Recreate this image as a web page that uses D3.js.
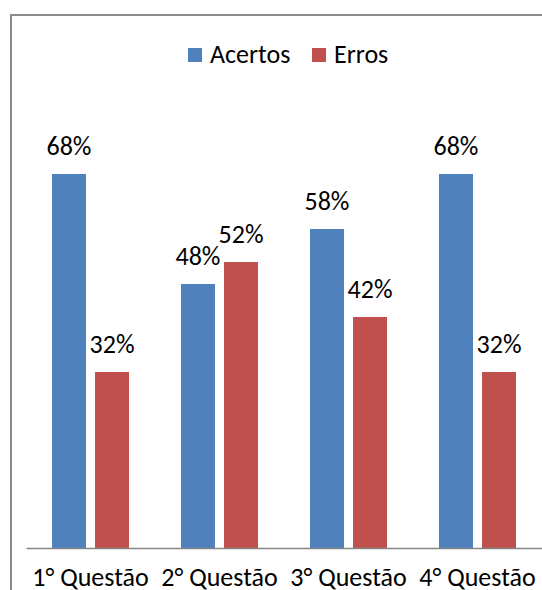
<!DOCTYPE html>
<html>
<head>
<meta charset="utf-8">
<script src="https://cdn.jsdelivr.net/npm/d3@7"></script>
<style>
  body { margin: 0; background: #fff; }
  text { font-family: Carlito, "Open Sans", sans-serif; fill: #000; }
</style>
</head>
<body>
<div id="graph"></div>
<script>
// chart data
var categories = ["1° Questão", "2° Questão", "3° Questão", "4° Questão"];
var series     = ["Acertos", "Erros"];
var acertos    = [0.68, 0.48, 0.58, 0.68];
var erros      = [0.32, 0.52, 0.42, 0.32];
var colors     = ["#4F81BD", "#C0504D"];

var width  = 542,
    height = 590,
    fontSize = 26;

var svg = d3.select("#graph")
  .append("svg")
  .attr("width", width)
  .attr("height", height);

// chart frame (right and bottom edges fall outside the picture)
svg.append("rect")
  .attr("x", 11)
  .attr("y", 15)
  .attr("width", 600)
  .attr("height", 640)
  .attr("fill", "none")
  .attr("stroke", "#8c8c8c")
  .attr("stroke-width", 2);

var x0 = d3.scaleBand().domain(categories).range([26, 542]);
var x1 = d3.scaleBand().domain(series).range([26, x0.bandwidth() - 26]).paddingInner(0.21);
var y  = d3.scaleLinear().domain([0, 0.8]).range([548, 108]);

var rows = categories.map(function (c, i) {
  return { cat: c, values: [acertos[i], erros[i]] };
});

var groups = svg.selectAll("g.grp")
  .data(rows)
  .enter()
  .append("g")
  .attr("class", "grp")
  .attr("transform", function (d) { return "translate(" + x0(d.cat) + ",0)"; });

groups.selectAll("rect")
  .data(function (d) { return d.values.map(function (v, j) { return { s: series[j], v: v, j: j }; }); })
  .enter()
  .append("rect")
  .attr("x", function (d) { return x1(d.s); })
  .attr("width", x1.bandwidth())
  .attr("y", function (d) { return y(d.v); })
  .attr("height", function (d) { return y(0) - y(d.v); })
  .attr("fill", function (d) { return colors[d.j]; });

// value labels
groups.selectAll("text.lbl")
  .data(function (d) { return d.values.map(function (v, j) { return { s: series[j], v: v }; }); })
  .enter()
  .append("text")
  .attr("class", "lbl")
  .attr("x", function (d) { return x1(d.s) + x1.bandwidth() / 2; })
  .attr("y", function (d) { return y(d.v) - 19; })
  .attr("text-anchor", "middle")
  .attr("font-size", fontSize)
  .text(function (d) { return Math.round(d.v * 100) + "%"; });

// category axis
var xAxis = d3.axisBottom(x0).tickSizeInner(0).tickSizeOuter(0).tickPadding(20);
var ax = svg.append("g")
  .attr("transform", "translate(0,548)")
  .call(xAxis);
ax.select(".domain").attr("stroke", "#868686").attr("stroke-width", 1.5);
ax.selectAll("text")
  .attr("font-size", fontSize)
  .attr("fill", "#000");

// legend
var legend = svg.append("g").attr("transform", "translate(188,48)");
var legX = [0, 124];
series.forEach(function (s, i) {
  legend.append("rect")
    .attr("x", legX[i])
    .attr("y", 0)
    .attr("width", 14)
    .attr("height", 14)
    .attr("fill", colors[i]);
  legend.append("text")
    .attr("x", legX[i] + 22)
    .attr("y", 15)
    .attr("font-size", fontSize)
    .text(s);
});
</script>
</body>
</html>
